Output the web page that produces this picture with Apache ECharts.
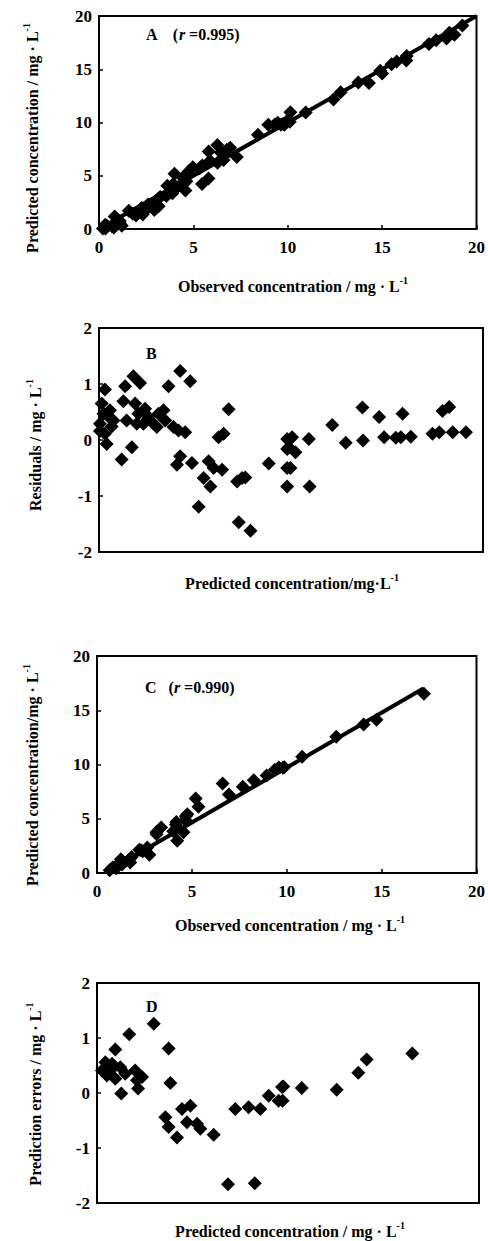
<!DOCTYPE html>
<html><head><meta charset="utf-8">
<script src="https://cdn.jsdelivr.net/npm/echarts@6/dist/echarts.min.js"></script>
<style>html,body{margin:0;padding:0;background:#fff}#c{width:488px;height:1241px}</style>
</head><body><div id="c"></div>
<script>
// Panel B: predicted concentration vs residual (calibration set)
const predB = [0.31,0.14,0.05,0.49,0.31,0.40,0.66,0.57,0.23,0.05,0.75,1.18,1.71,1.36,1.27,1.79,2.14,1.44,1.88,2.05,2.40,2.58,2.84,3.10,3.36,3.45,3.01,2.31,1.97,3.62,4.23,4.75,3.88,4.14,4.49,4.23,4.06,4.84,5.71,5.97,6.41,5.45,5.80,5.19,6.23,6.49,6.75,7.19,7.45,7.62,7.28,7.89,8.84,9.80,9.80,9.80,9.80,10.06,9.89,10.23,9.97,10.93,10.97,12.15,12.85,13.72,13.75,14.59,14.85,15.46,15.81,15.72,16.24,17.37,17.72,17.89,18.24,18.42,19.11];
const resB = [0.90,0.65,0.29,0.42,0.11,-0.07,0.24,0.53,0.47,0.16,0.35,-0.35,-0.13,0.96,0.69,1.14,1.02,0.35,0.65,0.47,0.56,0.41,0.29,0.47,0.53,0.35,0.23,0.29,0.29,0.96,1.23,1.05,0.23,0.17,0.14,-0.29,-0.44,-0.41,-0.38,-0.50,-0.53,-0.68,-0.83,-1.19,0.05,0.11,0.55,-0.74,-0.68,-0.67,-1.47,-1.62,-0.42,0.02,-0.16,-0.50,-0.83,0.05,-0.13,-0.22,-0.50,0.02,-0.83,0.27,-0.05,0.58,-0.01,0.41,0.05,0.04,0.47,0.05,0.06,0.11,0.14,0.52,0.59,0.14,0.14];
// Panel A: observed vs predicted (calibration set)
const obsA = [1.21,0.79,0.34,0.91,0.42,0.33,0.90,1.10,0.70,0.21,1.10,0.83,1.58,2.32,1.96,2.93,3.16,1.79,2.53,2.52,2.96,2.99,3.13,3.57,3.89,3.80,3.24,2.60,2.26,4.58,5.46,5.80,4.11,4.31,4.63,3.94,3.62,4.43,5.33,5.47,5.88,4.77,4.97,4.00,6.28,6.60,7.30,6.45,6.77,6.95,5.81,6.27,8.42,9.82,9.64,9.30,8.97,10.11,9.76,10.01,9.47,10.95,10.14,12.42,12.80,14.30,13.74,15.00,14.90,15.50,16.28,15.77,16.30,17.48,17.86,18.41,18.83,18.56,19.25];
const predA = predB.slice();
const lineA = [[0,0],[20,20]];
// Panel D: predicted concentration vs prediction error (test set)
const predD = [2.97,1.69,0.96,3.75,0.44,0.26,0.70,0.96,0.52,1.22,1.48,2.00,2.36,2.09,0.79,1.27,2.15,3.84,4.45,4.89,3.58,3.75,4.19,4.71,5.24,5.41,6.11,7.24,7.94,8.55,6.86,8.26,8.99,9.51,9.69,9.75,9.72,10.72,12.55,13.68,14.12,16.51];
const errD = [1.26,1.07,0.79,0.81,0.56,0.41,0.41,0.26,0.32,0.47,0.35,0.41,0.29,0.23,0.53,-0.01,0.08,0.18,-0.29,-0.23,-0.44,-0.62,-0.81,-0.53,-0.56,-0.65,-0.76,-0.29,-0.26,-0.29,-1.66,-1.64,-0.05,-0.14,0.11,0.12,-0.14,0.09,0.06,0.37,0.61,0.72];
// Panel C: observed vs predicted (test set)
const obsC = [4.23,2.76,1.75,4.56,1.00,0.67,1.11,1.22,0.84,1.69,1.83,2.41,2.65,2.32,1.32,1.26,2.23,4.02,4.16,4.66,3.14,3.13,3.38,4.18,4.68,4.76,5.35,6.95,7.68,8.26,5.20,6.62,8.94,9.37,9.80,9.87,9.58,10.81,12.61,14.05,14.73,17.23];
const predC = predD.slice();
const lineC = [[0.7,0.3],[17.2,17.0]];
const concTicks = [0,5,10,15,20];
const resTicks = [-2,-1,0,1,2];

const FONT = 'Liberation Serif';
const zip = (a,b) => a.map((v,i)=>[v,b[i]]);

const grids = [
  {left:99, top:16, width:383, height:213},
  {left:99, top:328, width:384, height:224},
  {left:97, top:656, width:382, height:217},
  {left:97, top:983, width:382, height:220}
];
function xAx(i, labels){
  return {gridIndex:i, type:'value', min:concTicks[0], max:concTicks[concTicks.length-1], interval:concTicks[1]-concTicks[0],
    axisLine:{show:true, onZero:false, lineStyle:{color:'#000', width:2}},
    axisTick:{show:labels, inside:true, length:4, lineStyle:{color:'#000', width:1.5}},
    axisLabel:{show:labels, color:'#000', fontFamily:FONT, fontWeight:'bold', fontSize:17, margin:10},
    splitLine:{show:false}};
}
function yAx(i, ticks){
  return {gridIndex:i, type:'value', min:ticks[0], max:ticks[ticks.length-1], interval:ticks[1]-ticks[0],
    axisLine:{show:true, onZero:false, lineStyle:{color:'#000', width:2}},
    axisTick:{show:true, inside:true, length:4, lineStyle:{color:'#000', width:1.5}},
    axisLabel:{color:'#000', fontFamily:FONT, fontWeight:'bold', fontSize:17, margin:7},
    splitLine:{show:false}};
}
function sc(i, data){
  return {type:'scatter', xAxisIndex:i, yAxisIndex:i, data:data, symbol:'diamond', symbolSize:14,
    itemStyle:{color:'#000', opacity:1}, z:3, silent:true};
}
function ln(i, data){
  return {type:'line', xAxisIndex:i, yAxisIndex:i, data:data, symbol:'none',
    lineStyle:{color:'#000', width:4, opacity:1}, z:2, silent:true};
}
const rich = {
  n:{fontFamily:FONT, fontWeight:'bold', fontSize:16, color:'#000'},
  s:{fontFamily:FONT, fontWeight:'bold', fontSize:10, color:'#000', verticalAlign:'top', padding:[0,0,11,0]},
  i:{fontFamily:FONT, fontWeight:'bold', fontStyle:'italic', fontSize:16, color:'#000'}
};
function t(text, x, y, rot){
  return {type:'text', x:x, y:y, rotation:rot||0, silent:true,
    style:{text:text, rich:rich, align:'center', verticalAlign:'middle', font:'bold 16px ' + FONT, fill:'#000'}};
}
function lbl(text, x, y){
  return {type:'text', x:x, y:y, silent:true,
    style:{text:text, rich:rich, align:'left', verticalAlign:'middle', font:'bold 16px ' + FONT, fill:'#000'}};
}
const R = Math.PI/2;
const chart = echarts.init(document.getElementById('c'), null, {renderer:'svg'});
chart.setOption({
  animation:false,
  grid: grids.map(g => Object.assign({show:true, borderColor:'#000', borderWidth:2, backgroundColor:'#fff'}, g)),
  xAxis:[xAx(0,true), xAx(1,false), xAx(2,true), xAx(3,false)],
  yAxis:[yAx(0,concTicks), yAx(1,resTicks), yAx(2,concTicks), yAx(3,resTicks)],
  series:[
    ln(0, lineA), sc(0, zip(obsA, predA)),
    sc(1, zip(predB, resB)),
    ln(2, lineC), sc(2, zip(obsC, predC)),
    sc(3, zip(predD, errD))
  ],
  graphic:[
    lbl('{n|A    (}{i|r}{n| =0.995)}', 146, 34),
    lbl('{n|B}', 146, 353),
    lbl('{n|C   (}{i|r}{n| =0.990)}', 145, 687),
    lbl('{n|D}', 146, 1006),
    t('{n|Observed concentration / mg · L}{s|-1}', 293, 286),
    t('{n|Predicted concentration/mg·L}{s|-1}', 292, 583),
    t('{n|Observed concentration / mg · L}{s|-1}', 290, 925),
    t('{n|Predicted concentration / mg · L}{s|-1}', 290, 1231),
    t('{n|Predicted concentration / mg · L}{s|-1}', 32, 138, R),
    t('{n|Residuals / mg · L}{s|-1}', 35, 445, R),
    t('{n|Predicted concentration/mg · L}{s|-1}', 32, 775, R),
    t('{n|Prediction errors / mg · L}{s|-1}', 35, 1094, R)
  ]
});
</script></body></html>
